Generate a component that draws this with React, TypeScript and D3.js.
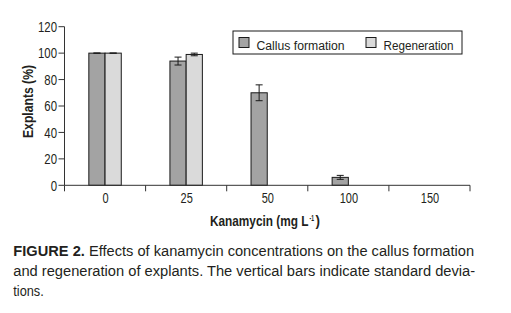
import React, { useLayoutEffect, useRef, useState } from "react";
import * as d3 from "d3";

const categories = ["0", "25", "50", "100", "150"];
const seriesNames = ["Callus formation", "Regeneration"];
const callusValues = [100, 94, 70, 6, 0];
const callusErrors = [0, 3, 6, 1.5, 0];
const regenValues = [100, 99, 0, 0, 0];
const regenErrors = [0, 1, 0, 0, 0];
const yTicks = [0, 20, 40, 60, 80, 100, 120];
const captionLines = [
  { bold: "FIGURE 2.", rest: " Effects of kanamycin concentrations on the callus formation" },
  { bold: "", rest: "and regeneration of explants. The vertical bars indicate standard devia-" },
  { bold: "", rest: "tions." },
];

const FONT = "'Liberation Sans', Arial, sans-serif";
const TEXT = "#231f20";
const SQ = 0.76; // horizontal condensation

type TProps = {
  x: number; y: number; size: number; anchor?: "start" | "middle" | "end";
  bold?: boolean; width?: number; children: React.ReactNode; rotate?: boolean;
};

// Text condensed horizontally by a scale transform so that it spans `width` px
function T({ x, y, size, anchor = "start", bold, width, children, rotate }: TProps) {
  const ref = useRef<SVGTextElement>(null);
  const [s, setS] = useState(SQ);
  useLayoutEffect(() => {
    if (width && ref.current) {
      const n = ref.current.getComputedTextLength();
      if (n > 0) setS(width / n);
    }
  }, [width]);
  const tf = rotate
    ? `translate(${x},${y}) rotate(-90) scale(${s},1)`
    : `translate(${x},${y}) scale(${s},1)`;
  return (
    <text ref={ref} transform={tf} textAnchor={anchor} fontFamily={FONT}
      fontSize={size} fontWeight={bold ? "bold" : "normal"} fill={TEXT}>{children}</text>
  );
}

export default function App() {
  const left = 64.5, right = 470, top = 26.7, bottom = 185.3;
  const x0 = d3.scaleBand<string>().domain(categories).range([left, right]).padding(0);
  const bw = x0.bandwidth();
  const x1 = d3.scaleBand<string>().domain(seriesNames).range([bw * 0.3, bw * 0.7]).padding(0);
  const y = d3.scaleLinear().domain([0, 120]).range([bottom, top]);
  const fills = ["#a3a3a3", "#dadada"];
  const series = [
    { name: seriesNames[0], values: callusValues, errors: callusErrors },
    { name: seriesNames[1], values: regenValues, errors: regenErrors },
  ];
  const boundaries = [...categories.map((c) => x0(c) as number), right];
  const legendX = [239, 366];
  const legendW = [88, 70];

  return (
    <svg width={511} height={313} style={{ position: "absolute", left: 0, top: 0, background: "#fff" }}>
      {/* bars */}
      {series.map((s, si) =>
        categories.map((c, ci) => {
          const v = s.values[ci];
          if (v <= 0) return null;
          const bx = (x0(c) as number) + (x1(s.name) as number);
          const w = x1.bandwidth();
          const cx = bx + w / 2;
          const e = s.errors[ci];
          return (
            <g key={`${si}-${ci}`}>
              <rect x={bx} y={y(v)} width={w} height={bottom - y(v)} fill={fills[si]} stroke="#1a1a1a" strokeWidth={1} />
              <line x1={cx} x2={cx} y1={y(v + e)} y2={y(v - e)} stroke="#1a1a1a" strokeWidth={1} />
              <line x1={cx - 3.5} x2={cx + 3.5} y1={y(v + e)} y2={y(v + e)} stroke="#1a1a1a" strokeWidth={1} />
              <line x1={cx - 3.5} x2={cx + 3.5} y1={y(v - e)} y2={y(v - e)} stroke="#1a1a1a" strokeWidth={1} />
            </g>
          );
        })
      )}
      {/* y axis */}
      <line x1={left} x2={left} y1={top} y2={bottom} stroke="#333" strokeWidth={1} />
      {yTicks.map((t) => (
        <g key={t}>
          <line x1={left - 6} x2={left} y1={y(t)} y2={y(t)} stroke="#333" strokeWidth={1} />
          <T x={57} y={y(t) + 5.3} size={15} anchor="end">{t}</T>
        </g>
      ))}
      {/* x axis */}
      <line x1={left} x2={right} y1={bottom} y2={bottom} stroke="#333" strokeWidth={1} />
      {boundaries.map((b, i) => (
        <line key={i} x1={b} x2={b} y1={bottom} y2={bottom + 6} stroke="#333" strokeWidth={1} />
      ))}
      {categories.map((c) => (
        <T key={c} x={(x0(c) as number) + bw / 2 + 0.5} y={203.3} size={14.5} anchor="middle">{c}</T>
      ))}
      {/* axis titles */}
      <T x={33} y={101.5} size={14} bold anchor="middle" rotate width={73}>Explants (%)</T>
      <T x={210} y={226} size={14} bold width={98.5}>Kanamycin (mg L</T>
      <T x={309.5} y={220.5} size={9} bold width={4.5}>-1</T>
      <T x={315.5} y={226} size={14} bold width={4.5}>)</T>
      {/* legend */}
      <rect x={233} y={31} width={229} height={23} fill="#fff" stroke="#1a1a1a" strokeWidth={1} />
      {series.map((s, i) => (
        <g key={s.name}>
          <rect x={legendX[i]} y={37.5} width={10} height={10} fill={fills[i]} stroke="#1a1a1a" strokeWidth={1} />
          <T x={legendX[i] + 17.5} y={49.5} size={13.5} width={legendW[i]}>{s.name}</T>
        </g>
      ))}
      {/* caption */}
      <T x={13.3} y={256} size={15.5} width={460.7}>
        <tspan fontWeight="bold">{captionLines[0].bold}</tspan>{captionLines[0].rest}
      </T>
      <T x={13.3} y={276} size={15.5} width={461.7}>{captionLines[1].rest}</T>
      <T x={13.3} y={296} size={15.5} width={30.5}>{captionLines[2].rest}</T>
    </svg>
  );
}
